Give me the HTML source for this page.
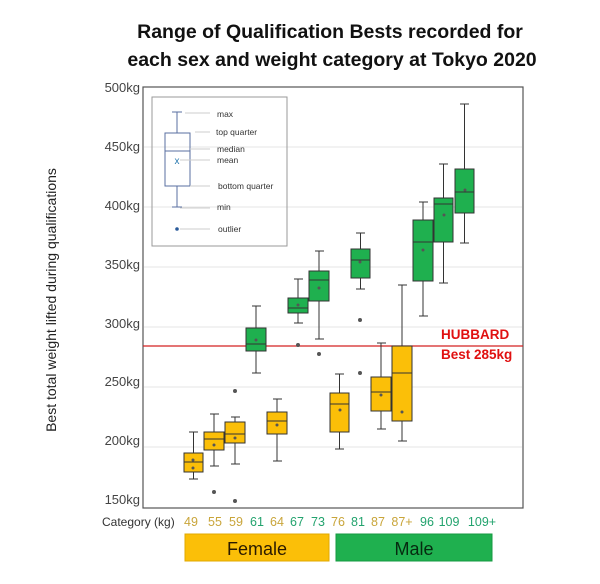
<!DOCTYPE html>
<html><head><meta charset="utf-8"><style>
body{margin:0;background:#fff;}
svg{display:block;font-family:"Liberation Sans",sans-serif;}
</style></head><body>
<svg width="600" height="584" viewBox="0 0 600 584" xmlns="http://www.w3.org/2000/svg">
<rect width="600" height="584" fill="#fff"/>
<text x="330" y="38" font-size="19.5" font-weight="bold" text-anchor="middle" fill="#111">Range of Qualification Bests recorded for</text>
<text x="332" y="66" font-size="19.5" font-weight="bold" text-anchor="middle" fill="#111">each sex and weight category at Tokyo 2020</text>
<g stroke="#e6e6e6" stroke-width="1">
<line x1="144" x2="522" y1="147" y2="147"/><line x1="144" x2="522" y1="207" y2="207"/><line x1="144" x2="522" y1="267" y2="267"/><line x1="144" x2="522" y1="327" y2="327"/><line x1="144" x2="522" y1="387" y2="387"/><line x1="144" x2="522" y1="447" y2="447"/>
</g>
<rect x="143" y="87" width="380" height="421" fill="none" stroke="#555" stroke-width="1.2"/>
<g font-size="13" fill="#444" text-anchor="end">
<text x="140" y="92">500kg</text><text x="140" y="151">450kg</text><text x="140" y="210">400kg</text><text x="140" y="269">350kg</text><text x="140" y="328">300kg</text><text x="140" y="386">250kg</text><text x="140" y="445">200kg</text><text x="140" y="504">150kg</text>
</g>
<text transform="translate(56,300) rotate(-90)" font-size="14" fill="#222" text-anchor="middle">Best total weight  lifted during qualifications</text>
<g stroke="#5a6fa0" fill="none" stroke-width="1">
<rect x="152" y="97" width="135" height="149" stroke="#999"/>
<line x1="177" x2="177" y1="112" y2="133"/><line x1="172" x2="182" y1="112" y2="112"/>
<rect x="165" y="133" width="25" height="53"/>
<line x1="165" x2="190" y1="151" y2="151"/>
<line x1="177" x2="177" y1="186" y2="207"/><line x1="172" x2="182" y1="207" y2="207"/>
<g stroke="#ccc"><line x1="185" x2="210" y1="113" y2="113"/><line x1="195" x2="210" y1="132" y2="132"/><line x1="190" x2="210" y1="149" y2="149"/><line x1="180" x2="210" y1="160" y2="160"/><line x1="190" x2="210" y1="186" y2="186"/><line x1="180" x2="210" y1="208" y2="208"/><line x1="180" x2="210" y1="229" y2="229"/></g>
</g>
<text x="177" y="164" font-size="10" fill="#2a7ab0" text-anchor="middle">x</text>
<circle cx="177" cy="229" r="1.8" fill="#2a5a9a"/>
<g font-size="8.5" fill="#333">
<text x="217" y="117">max</text><text x="216" y="135">top quarter</text><text x="217" y="152">median</text><text x="217" y="163">mean</text><text x="218" y="189">bottom quarter</text><text x="217" y="210">min</text><text x="218" y="232">outlier</text>
</g>
<line x1="143" x2="523" y1="346" y2="346" stroke="#d42020" stroke-width="1.2"/>
<text x="441" y="339" font-size="13.5" font-weight="bold" fill="#e01010">HUBBARD</text>
<text x="441" y="359" font-size="13.5" font-weight="bold" fill="#e01010">Best 285kg</text>
<g stroke="#333" stroke-width="1">
<g fill="#fbbf08">
<line x1="193.5" x2="193.5" y1="432" y2="479"/><rect x="184" y="453" width="19" height="19"/><line x1="184" x2="203" y1="462" y2="462"/>
<line x1="214" x2="214" y1="414" y2="466"/><rect x="204" y="432" width="20" height="18"/><line x1="204" x2="224" y1="439" y2="439"/>
<line x1="235" x2="235" y1="417" y2="464"/><rect x="225" y="422" width="20" height="21"/><line x1="225" x2="245" y1="434" y2="434"/>
<line x1="277" x2="277" y1="399" y2="461"/><rect x="267" y="412" width="20" height="22"/><line x1="267" x2="287" y1="421" y2="421"/>
<line x1="339.5" x2="339.5" y1="374" y2="449"/><rect x="330" y="393" width="19" height="39"/><line x1="330" x2="349" y1="404" y2="404"/>
<line x1="381" x2="381" y1="343" y2="429"/><rect x="371" y="377" width="20" height="34"/><line x1="371" x2="391" y1="392" y2="392"/>
<line x1="402" x2="402" y1="285" y2="441"/><rect x="392" y="346" width="20" height="75"/><line x1="392" x2="412" y1="373" y2="373"/>
</g>
<g fill="#1fb04f">
<line x1="256" x2="256" y1="306" y2="373"/><rect x="246" y="328" width="20" height="23"/><line x1="246" x2="266" y1="344" y2="344"/>
<line x1="298" x2="298" y1="279" y2="323"/><rect x="288" y="298" width="20" height="15"/><line x1="288" x2="308" y1="308" y2="308"/>
<line x1="319" x2="319" y1="251" y2="339"/><rect x="309" y="271" width="20" height="30"/><line x1="309" x2="329" y1="280" y2="280"/>
<line x1="360.5" x2="360.5" y1="233" y2="289"/><rect x="351" y="249" width="19" height="29"/><line x1="351" x2="370" y1="260" y2="260"/>
<line x1="423" x2="423" y1="202" y2="316"/><rect x="413" y="220" width="20" height="61"/><line x1="413" x2="433" y1="242" y2="242"/>
<line x1="443.5" x2="443.5" y1="164" y2="283"/><rect x="434" y="198" width="19" height="44"/><line x1="434" x2="453" y1="204" y2="204"/>
<line x1="464.5" x2="464.5" y1="104" y2="243"/><rect x="455" y="169" width="19" height="44"/><line x1="455" x2="474" y1="192" y2="192"/>
</g>
<g stroke-width="1"><line x1="189" x2="198" y1="432" y2="432"/><line x1="189" x2="198" y1="479" y2="479"/><line x1="210" x2="219" y1="414" y2="414"/><line x1="210" x2="219" y1="466" y2="466"/><line x1="231" x2="240" y1="417" y2="417"/><line x1="231" x2="240" y1="464" y2="464"/><line x1="252" x2="261" y1="306" y2="306"/><line x1="252" x2="261" y1="373" y2="373"/><line x1="273" x2="282" y1="399" y2="399"/><line x1="273" x2="282" y1="461" y2="461"/><line x1="294" x2="303" y1="279" y2="279"/><line x1="294" x2="303" y1="323" y2="323"/><line x1="315" x2="324" y1="251" y2="251"/><line x1="315" x2="324" y1="339" y2="339"/><line x1="335" x2="344" y1="374" y2="374"/><line x1="335" x2="344" y1="449" y2="449"/><line x1="356" x2="365" y1="233" y2="233"/><line x1="356" x2="365" y1="289" y2="289"/><line x1="377" x2="386" y1="343" y2="343"/><line x1="377" x2="386" y1="429" y2="429"/><line x1="398" x2="407" y1="285" y2="285"/><line x1="398" x2="407" y1="441" y2="441"/><line x1="419" x2="428" y1="202" y2="202"/><line x1="419" x2="428" y1="316" y2="316"/><line x1="439" x2="448" y1="164" y2="164"/><line x1="439" x2="448" y1="283" y2="283"/><line x1="460" x2="469" y1="104" y2="104"/><line x1="460" x2="469" y1="243" y2="243"/></g>
</g>
<g fill="#555">
<circle cx="214" cy="492" r="2"/><circle cx="235" cy="391" r="2"/><circle cx="235" cy="501" r="2"/><circle cx="298" cy="345" r="2"/><circle cx="319" cy="354" r="2"/><circle cx="360" cy="320" r="2"/><circle cx="360" cy="373" r="2"/>
<circle cx="193" cy="460" r="1.5"/><circle cx="193" cy="468" r="1.5"/><circle cx="214" cy="445" r="1.5"/><circle cx="235" cy="438" r="1.5"/><circle cx="277" cy="425" r="1.5"/><circle cx="256" cy="340" r="1.5"/><circle cx="298" cy="305" r="1.5"/><circle cx="319" cy="288" r="1.5"/><circle cx="340" cy="410" r="1.5"/><circle cx="360" cy="262" r="1.5"/><circle cx="381" cy="395" r="1.5"/><circle cx="402" cy="412" r="1.5"/><circle cx="423" cy="250" r="1.5"/><circle cx="444" cy="215" r="1.5"/><circle cx="465" cy="190" r="1.5"/>
</g>
<g font-size="12.5" text-anchor="middle">
<text x="102" y="526" font-size="12" fill="#333" text-anchor="start">Category (kg)</text>
<g fill="#c9a53a"><text x="191" y="526">49</text><text x="215" y="526">55</text><text x="236" y="526">59</text><text x="277" y="526">64</text><text x="338" y="526">76</text><text x="378" y="526">87</text><text x="402" y="526">87+</text></g>
<g fill="#23a36e"><text x="257" y="526">61</text><text x="297" y="526">67</text><text x="318" y="526">73</text><text x="358" y="526">81</text><text x="427" y="526">96</text><text x="449" y="526">109</text><text x="482" y="526">109+</text></g>
</g>
<rect x="185" y="534" width="144" height="27" fill="#fbbf08" stroke="#e0a800"/>
<rect x="336" y="534" width="156" height="27" fill="#1fb04f" stroke="#159a40"/>
<text x="257" y="555" font-size="18" text-anchor="middle" fill="#2a1a00">Female</text>
<text x="414" y="555" font-size="18" text-anchor="middle" fill="#062a10">Male</text>
</svg>
</body></html>
